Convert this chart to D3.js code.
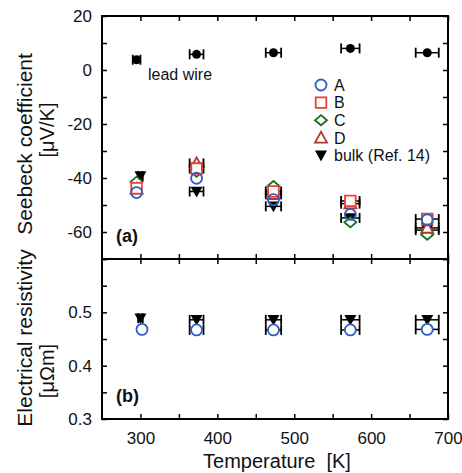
<!DOCTYPE html>
<html>
<head>
<meta charset="utf-8">
<script src="https://cdnjs.cloudflare.com/ajax/libs/d3/7.8.5/d3.min.js"></script>
<style>
  body { margin: 0; background: #fff; }
  svg { display: block; font-family: "Liberation Sans", Arial, sans-serif; }
</style>
</head>
<body>
<svg id="chart" width="462" height="473"></svg>
<script>
// temperatures [K] and their error (half width)
var temps = [295, 373, 473, 573, 673];
var tempErr = [5, 9, 10, 12, 15];
var bulkTemps = [300, 373, 473, 573, 673];
var bulkTempErr = [3, 9, 10, 12, 15];
var resTemps = [302, 373, 473, 573, 673];

// Seebeck coefficient [uV/K]
var leadWire = [3.8, 5.8, 6.4, 8.0, 6.4];
var seebeckA = [-45.4, -40.1, -48.0, -53.5, -55.5];
var seebeckB = [-43.8, -36.5, -45.0, -48.5, -55.2];
var seebeckC = [-41.4, -37.7, -43.0, -56.4, -61.0];
var seebeckD = [-44.0, -34.6, -46.0, -49.5, -58.5];
var seebeckBulk = [-39.3, -45.0, -50.5, -54.8, -59.3];

// electrical resistivity [uOhm m]
var resistA = [0.468, 0.467, 0.467, 0.467, 0.468];
var resistBulk = [0.489, 0.486, 0.486, 0.486, 0.486];

var xTicks = [300, 400, 500, 600, 700];
var seebeckTicks = [20, 0, -20, -40, -60];
var resistTicks = [0.3, 0.4, 0.5];

(function() {
var svg = d3.select("#chart");
var pLeft = 102, pRight = 448, pTop = 16, pMid = 259, pBottom = 419;

var x = d3.scaleLinear().domain([250, 700]).range([pLeft, pRight]);
var yA = d3.scaleLinear().domain([-70, 20]).range([pMid, pTop]);
var yB = d3.scaleLinear().domain([0.3, 0.6]).range([pBottom, pMid]);

var colA = "#2d5fc2", colB = "#ef3e36", colC = "#1b6e24", colD = "#ad3a2c";

// marker shapes, centred on 0,0
var shapes = {
    circle: function(s) { return d3.symbol(d3.symbolCircle, Math.PI * s * s)(); },
    square: function(s) { return "M" + (-s) + "," + (-s) + "H" + s + "V" + s + "H" + (-s) + "Z"; },
    diamond: function(s) { return "M0," + (-s * 0.85) + "L" + s + ",0L0," + (s * 0.85) + "L" + (-s) + ",0Z"; },
    up: function(s) { return "M0," + (-s) + "L" + s + "," + (s * 0.8) + "L" + (-s) + "," + (s * 0.8) + "Z"; },
    down: function(s) { return "M0," + s + "L" + s + "," + (-s * 0.8) + "L" + (-s) + "," + (-s * 0.8) + "Z"; }
};

function errBars(g, xs, errs, ys, yScale) {
    xs.forEach(function(t, i) {
        var e = errs[i];
        if (!e) return;
        var cy = yScale(ys[i]);
        var x0 = x(t - e), x1 = x(t + e);
        g.append("line").attr("x1", x0).attr("x2", x1).attr("y1", cy).attr("y2", cy)
            .attr("stroke", "#000").attr("stroke-width", 1.5);
        [x0, x1].forEach(function(xx) {
            g.append("line").attr("x1", xx).attr("x2", xx).attr("y1", cy - 5).attr("y2", cy + 5)
                .attr("stroke", "#000").attr("stroke-width", 1.8);
        });
    });
}

function markers(g, xs, ys, yScale, shape, size, stroke, fill) {
    g.selectAll(null)
        .data(xs.map(function(t, i) { return [t, ys[i]]; }))
        .enter().append("path")
        .attr("transform", function(d) { return "translate(" + x(d[0]) + "," + yScale(d[1]) + ")"; })
        .attr("d", shapes[shape](size))
        .attr("fill", fill)
        .attr("stroke", stroke)
        .attr("stroke-width", stroke === "none" ? 0 : 1.8);
}

// ---- axes (ticks inward) ----
function fmt(d) { return String(d); }

var axTopL = svg.append("g").attr("transform", "translate(" + pLeft + ",0)")
    .call(d3.axisLeft(yA).tickValues(d3.range(-70, 21, 10)).tickSize(-5).tickPadding(10)
        .tickFormat(function(d) { return seebeckTicks.indexOf(d) >= 0 ? fmt(d) : ""; }));
var axTopR = svg.append("g").attr("transform", "translate(" + pRight + ",0)")
    .call(d3.axisRight(yA).tickValues(d3.range(-70, 21, 10)).tickSize(-5).tickFormat(""));
var resAll = [0.3, 0.35, 0.4, 0.45, 0.5, 0.55, 0.6];
var axBotL = svg.append("g").attr("transform", "translate(" + pLeft + ",0)")
    .call(d3.axisLeft(yB).tickValues(resAll).tickSize(-5).tickPadding(10)
        .tickFormat(function(d) {
            var hit = resistTicks.filter(function(v) { return Math.abs(v - d) < 1e-6; });
            return hit.length ? d3.format(".1f")(d) : "";
        }));
var axBotR = svg.append("g").attr("transform", "translate(" + pRight + ",0)")
    .call(d3.axisRight(yB).tickValues(resAll).tickSize(-5).tickFormat(""));

var xAll = d3.range(300, 701, 50);
var axX = svg.append("g").attr("transform", "translate(0," + pBottom + ")")
    .call(d3.axisBottom(x).tickValues(xAll).tickSize(-5).tickPadding(13)
        .tickFormat(function(d) { return xTicks.indexOf(d) >= 0 ? fmt(d) : ""; }));
var axXmidB = svg.append("g").attr("transform", "translate(0," + pMid + ")")
    .call(d3.axisBottom(x).tickValues(xAll).tickSize(5).tickFormat(""));
var axXmidA = svg.append("g").attr("transform", "translate(0," + pMid + ")")
    .call(d3.axisTop(x).tickValues(xAll).tickSize(5).tickFormat(""));
var axXtop = svg.append("g").attr("transform", "translate(0," + pTop + ")")
    .call(d3.axisTop(x).tickValues(xAll).tickSize(-5).tickFormat(""));

[axTopL, axTopR, axBotL, axBotR, axX, axXmidB, axXmidA, axXtop].forEach(function(a) {
    a.select(".domain").remove();
    a.selectAll(".tick line").attr("stroke", "#000").attr("stroke-width", 1.5);
    a.selectAll("text").attr("font-size", 17).attr("fill", "#111")
        .attr("font-family", "Liberation Sans, Arial, sans-serif");
});

// frame
svg.append("rect").attr("x", pLeft).attr("y", pTop)
    .attr("width", pRight - pLeft).attr("height", pBottom - pTop)
    .attr("fill", "none").attr("stroke", "#000").attr("stroke-width", 2);
svg.append("line").attr("x1", pLeft).attr("x2", pRight).attr("y1", pMid).attr("y2", pMid)
    .attr("stroke", "#000").attr("stroke-width", 2);

// ---- panel (a) ----
var ga = svg.append("g");
errBars(ga, temps, tempErr, leadWire, yA);
markers(ga, temps, leadWire, yA, "circle", 4.5, "none", "#000");

var sampleErr = tempErr.map(function(e, i) { return i === 0 ? 0 : e; });
errBars(ga, temps, sampleErr, seebeckD, yA);
errBars(ga, temps, sampleErr, seebeckB, yA);
errBars(ga, bulkTemps, bulkTempErr, seebeckBulk, yA);
markers(ga, bulkTemps, seebeckBulk, yA, "down", 6, "none", "#000");
markers(ga, temps, seebeckC, yA, "diamond", 6, colC, "#fff");
markers(ga, temps, seebeckD, yA, "up", 6, colD, "#fff");
markers(ga, temps, seebeckB, yA, "square", 5.3, colB, "#fff");
markers(ga, temps, seebeckA, yA, "circle", 5.5, colA, "none");

svg.append("text").attr("x", 148).attr("y", 80).attr("font-size", 16).attr("fill", "#111")
    .text("lead wire");

// legend
var legend = [
    ["A", "circle", 5.5, colA, "#fff"],
    ["B", "square", 5.3, colB, "#fff"],
    ["C", "diamond", 6, colC, "#fff"],
    ["D", "up", 6, colD, "#fff"],
    ["bulk (Ref. 14)", "down", 6, "none", "#000"]
];
var lg = svg.append("g").attr("transform", "translate(321,85)");
legend.forEach(function(l, i) {
    var row = lg.append("g").attr("transform", "translate(0," + (i * 17.6) + ")");
    row.append("path").attr("d", shapes[l[1]](l[2]))
        .attr("fill", l[4]).attr("stroke", l[3]).attr("stroke-width", l[3] === "none" ? 0 : 1.8);
    row.append("text").attr("x", 13).attr("dy", "0.36em").attr("font-size", 16).attr("fill", "#111")
        .text(l[0]);
});

svg.append("text").attr("x", 116).attr("y", 242).attr("font-size", 18)
    .attr("font-weight", "bold").attr("fill", "#111").text("(a)");

// ---- panel (b) ----
var gb = svg.append("g");
errBars(gb, bulkTemps, bulkTempErr, resistBulk, yB);
errBars(gb, resTemps, resTemps.map(function(t, i) { return i === 0 ? 0 : tempErr[i]; }), resistA, yB);
markers(gb, bulkTemps, resistBulk, yB, "down", 6, "none", "#000");
markers(gb, resTemps, resistA, yB, "circle", 5.5, colA, "#fff");

svg.append("text").attr("x", 116).attr("y", 402).attr("font-size", 18)
    .attr("font-weight", "bold").attr("fill", "#111").text("(b)");

// ---- axis titles ----
svg.append("text").attr("x", 277).attr("y", 468).attr("text-anchor", "middle")
    .attr("font-size", 20).attr("fill", "#111").attr("xml:space", "preserve").text("Temperature  [K]");

function yTitle(text, cx, cy, size) {
    svg.append("text").attr("transform", "translate(" + cx + "," + cy + ") rotate(-90)")
        .attr("text-anchor", "middle").attr("font-size", size).attr("fill", "#111").text(text);
}
yTitle("Seebeck coefficient", 32, 144, 21);
yTitle("[\u03bcV/K]", 54, 130, 20);
yTitle("Electrical resistivity", 32, 338, 21);
yTitle("[\u03bc\u03a9m]", 54, 371, 20);
})();
</script>
</body>
</html>
